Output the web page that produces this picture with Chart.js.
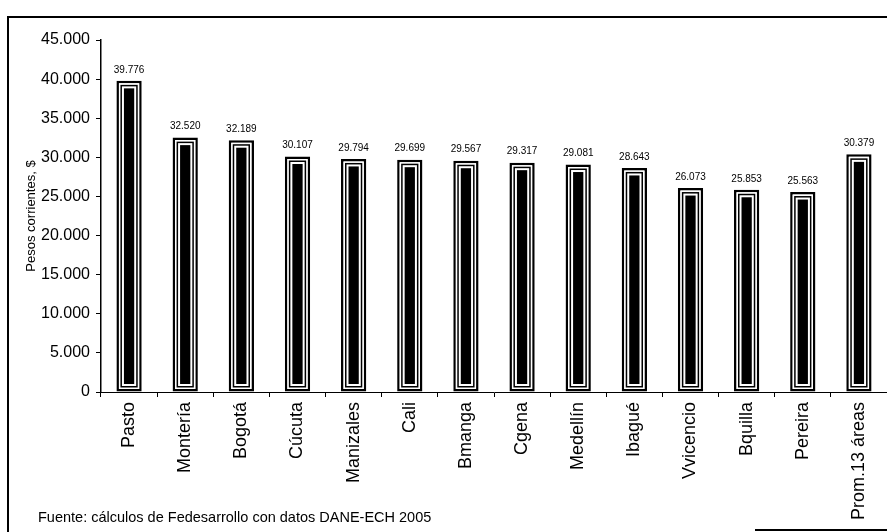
<!DOCTYPE html>
<html>
<head>
<meta charset="utf-8">
<script src="https://cdn.jsdelivr.net/npm/chart.js@4/dist/chart.umd.min.js"></script>
<style>
  html, body { margin: 0; padding: 0; background: #fff; overflow: hidden; }
  #wrap { position: relative; width: 887px; height: 532px; }
</style>
</head>
<body>
<div id="wrap"><canvas id="c" width="887" height="532"></canvas></div>
<script>
// Ingreso medio por área metropolitana (pesos corrientes)
const cities = ["Pasto", "Montería", "Bogotá", "Cúcuta", "Manizales", "Cali", "Bmanga",
  "Cgena", "Medellín", "Ibagué", "Vvicencio", "Bquilla", "Pereira", "Prom.13 áreas"];
const pesos = [39776, 32520, 32189, 30107, 29794, 29699, 29567, 29317, 29081, 28643,
  26073, 25853, 25563, 30379];
const yTicks = [0, 5000, 10000, 15000, 20000, 25000, 30000, 35000, 40000, 45000];
const axisTitle = "Pesos corrientes, $";
const sourceNote = "Fuente: cálculos de Fedesarrollo con datos DANE-ECH 2005";

const FONT = "'Liberation Sans', Arial, Helvetica, sans-serif";
const fmt = n => String(n).replace(/\B(?=(\d{3})+(?!\d))/g, ".");

// Page frame and source note
const framePlugin = {
  id: "frame",
  beforeDraw(chart) {
    const ctx = chart.ctx;
    ctx.save();
    ctx.fillStyle = "#fff";
    ctx.fillRect(0, 0, chart.width, chart.height);
    ctx.strokeStyle = "#000";
    ctx.lineWidth = 2;
    ctx.beginPath();
    ctx.moveTo(8, 532);
    ctx.lineTo(8, 17);
    ctx.lineTo(887, 17);
    ctx.moveTo(755, 530);
    ctx.lineTo(887, 530);
    ctx.stroke();
    ctx.fillStyle = "#000";
    ctx.font = "14.5px " + FONT;
    ctx.textBaseline = "alphabetic";
    ctx.textAlign = "left";
    ctx.fillText(sourceNote, 38, 522);
    ctx.restore();
  }
};

// Concentric outline + solid core inside each bar, plus value labels
const barStylePlugin = {
  id: "barStyle",
  afterDatasetsDraw(chart) {
    const ctx = chart.ctx;
    const meta = chart.getDatasetMeta(0);
    ctx.save();
    meta.data.forEach((bar, i) => {
      const p = bar.getProps(["x", "y", "base", "width"], true);
      const left = p.x - p.width / 2, right = p.x + p.width / 2;
      const top = p.y, bottom = p.base;
      // inner ring
      ctx.strokeStyle = "#000";
      ctx.lineWidth = 1.5;
      const r = 4.75;
      ctx.strokeRect(left + r, top + r, (right - left) - 2 * r, (bottom - top) - 2 * r);
      // solid core
      const c = 7.5;
      ctx.fillStyle = "#000";
      ctx.fillRect(left + c, top + c, (right - left) - 2 * c, (bottom - top) - 2 * c);
      // value label
      ctx.font = "10px " + FONT;
      ctx.textAlign = "center";
      ctx.textBaseline = "bottom";
      ctx.fillText(fmt(pesos[i]), p.x, top - 6);
    });
    ctx.restore();
  }
};

new Chart(document.getElementById("c"), {
  type: "bar",
  data: {
    labels: cities,
    datasets: [{
      data: pesos,
      backgroundColor: "#fff",
      borderColor: "#000",
      borderWidth: 2.5,
      borderSkipped: false,
      barPercentage: 0.9,
      categoryPercentage: 0.5
    }]
  },
  options: {
    responsive: false,
    animation: false,
    devicePixelRatio: 1,
    layout: { padding: { top: 40, left: 20, right: 0, bottom: 0 } },
    plugins: {
      legend: { display: false },
      tooltip: { enabled: false },
      title: { display: false }
    },
    scales: {
      x: {
        grid: {
          display: true,
          drawOnChartArea: false,
          drawTicks: true,
          tickLength: 5,
          color: "#000",
          offset: true
        },
        border: { display: true, color: "#000", width: 1 },
        ticks: {
          color: "#000",
          font: { family: FONT, size: 18 },
          minRotation: 90,
          maxRotation: 90,
          padding: 5,
          autoSkip: false
        },
        afterFit(scale) { scale.height = 140; }
      },
      y: {
        min: 0,
        max: 45000,
        afterBuildTicks(scale) { scale.ticks = yTicks.map(v => ({ value: v })); },
        grid: {
          display: true,
          drawOnChartArea: false,
          drawTicks: true,
          tickLength: 5,
          color: "#000"
        },
        border: { display: true, color: "#000", width: 1.5 },
        ticks: {
          color: "#000",
          font: { family: FONT, size: 16 },
          padding: 6,
          callback: v => fmt(v)
        },
        title: {
          display: true,
          text: axisTitle,
          color: "#000",
          font: { family: FONT, size: 13 },
          padding: { top: 4, bottom: 4 }
        },
        afterFit(scale) { scale.width = 81; }
      }
    }
  },
  plugins: [framePlugin, barStylePlugin]
});
</script>
</body>
</html>
